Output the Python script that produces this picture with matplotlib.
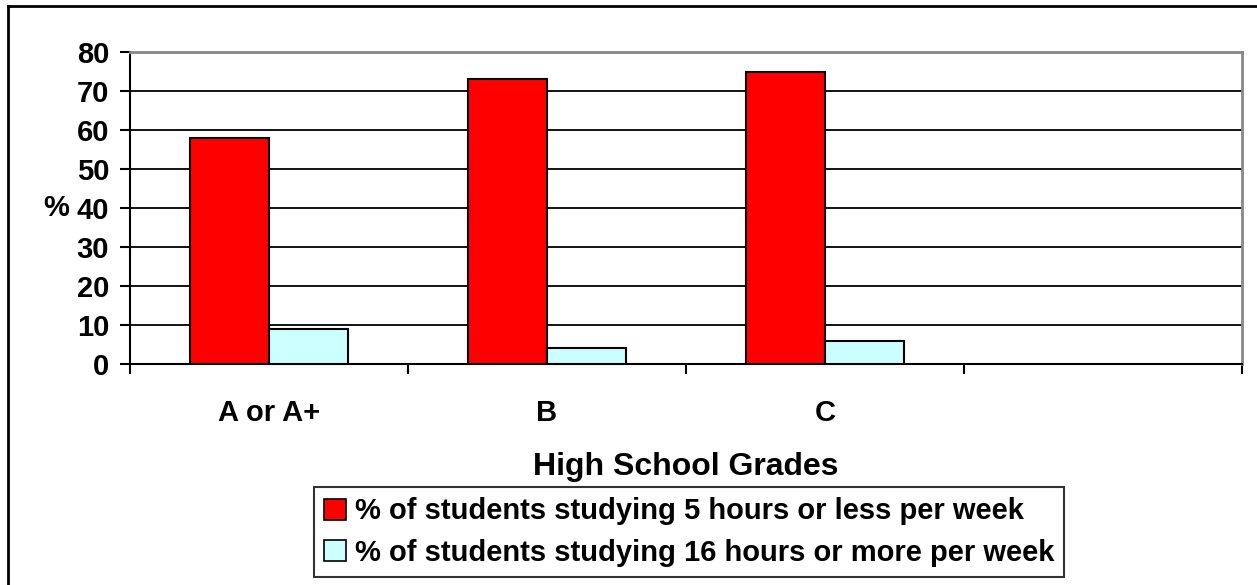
import matplotlib
matplotlib.use('Agg')
import matplotlib.pyplot as plt
from matplotlib.patches import Patch
from matplotlib.lines import Line2D
import numpy as np

grades = ['A or A+', 'B', 'C', '']
low_study = [58, 73, 75, 0]
high_study = [9, 4, 6, 0]
series_names = ['% of students studying 5 hours or less per week',
                '% of students studying 16 hours or more per week']
yticks = [0, 10, 20, 30, 40, 50, 60, 70, 80]

plt.rcParams['font.family'] = ['Liberation Sans', 'DejaVu Sans']
plt.rcParams['font.weight'] = 'bold'
fsize = 21

W, H = 1257, 585
fig = plt.figure(figsize=(W / 100, H / 100), dpi=100)
ax = fig.add_axes([130 / W, 1 - 364 / H, (1242 - 130) / W, (364 - 52) / H])

x = np.arange(len(grades))
bw = 0.285
ax.set_axisbelow(True)
ax.bar(x[:3] - bw / 2, low_study[:3], bw, color='#ff0000', edgecolor='black', linewidth=1.5, zorder=3)
ax.bar(x[:3] + bw / 2, high_study[:3], bw, color='#ccffff', edgecolor='black', linewidth=1.5, zorder=3)

ax.set_xlim(-0.5, 3.5)
ax.set_ylim(0, 80)
ax.set_yticks(yticks)
ax.yaxis.grid(True, color='black', linewidth=1.3)

ax.set_xticks(x)
ax.set_xticklabels(grades, fontsize=fsize, fontweight='bold')
ax.set_xticks(np.arange(-0.5, 4.0, 1.0), minor=True)
ax.tick_params(axis='x', which='major', length=0, pad=25)
ax.tick_params(axis='x', which='minor', length=7, width=1.5, direction='out')
ax.tick_params(axis='y', length=7, width=1.5, direction='out', pad=8, labelsize=fsize)
for lab in ax.get_yticklabels():
    lab.set_fontweight('bold')

for s in ['left', 'bottom']:
    ax.spines[s].set_color('black')
    ax.spines[s].set_linewidth(1.5)
for s in ['top', 'right']:
    ax.spines[s].set_color('#888888')
    ax.spines[s].set_linewidth(2)

ax.set_ylabel('%', rotation=0, fontsize=fsize, fontweight='bold', va='center')
ax.yaxis.set_label_coords(-0.066, 0.5)
ax.set_xlabel('High School Grades', fontsize=23, fontweight='bold', labelpad=18)

handles = [Patch(facecolor='#ff0000', edgecolor='black', linewidth=1.2),
           Patch(facecolor='#ccffff', edgecolor='black', linewidth=1.2)]
leg = fig.legend(handles, series_names, loc='center',
                 bbox_to_anchor=(((313 + 1065) / 2) / W, 1 - 532 / H),
                 prop={'size': fsize, 'weight': 'bold'}, frameon=True, fancybox=False,
                 edgecolor='black', handlelength=0.75, handleheight=0.75, handletextpad=0.3,
                 borderpad=0.35, labelspacing=0.45, borderaxespad=0)
leg.get_frame().set_linewidth(1.5)

# outer chart border (left and top only visible)
fig.add_artist(Line2D([8 / W, 8 / W], [0, 1 - 6 / H], transform=fig.transFigure, color='black', linewidth=2))
fig.add_artist(Line2D([8 / W, 1], [1 - 6 / H, 1 - 6 / H], transform=fig.transFigure, color='black', linewidth=2))

fig.savefig('out.png', dpi=100)
